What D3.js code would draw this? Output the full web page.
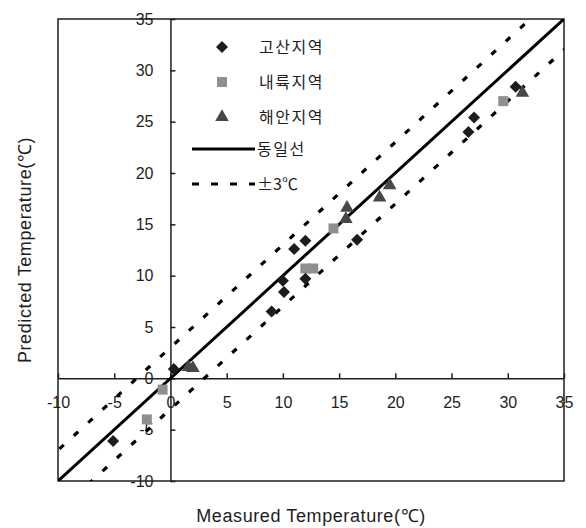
<!DOCTYPE html>
<html>
<head>
<meta charset="utf-8">
<script src="https://cdn.jsdelivr.net/npm/d3@7"></script>
<style>
  body { margin: 0; background: #fff; }
  svg { display: block; }
</style>
</head>
<body>
<svg id="chart" width="586" height="528"></svg>
<script>
// measured / predicted pairs per region
const HIGHLAND_X = [-5.1, 0.3, 9.0, 10.0, 10.1, 11.0, 12.0, 12.0, 16.6, 26.5, 27.0, 30.7];
const HIGHLAND_Y = [-6.1, 0.9, 6.5, 9.5, 8.4, 12.6, 13.4, 9.7, 13.5, 24.0, 25.4, 28.4];
const INLAND_X = [-2.1, -0.7, 12.0, 12.7, 14.5, 29.6];
const INLAND_Y = [-4.0, -1.1, 10.7, 10.7, 14.6, 27.0];
const COAST_X = [1.6, 2.0, 15.6, 15.7, 18.6, 19.5, 31.3];
const COAST_Y = [1.1, 1.0, 15.5, 16.6, 17.6, 18.8, 27.8];
const SERIES_NAMES = ["고산지역", "내륙지역", "해안지역"];
const LINE_NAMES = ["동일선", "±3℃"];
const TICKS = [-10, -5, 0, 5, 10, 15, 20, 25, 30, 35];
const DOMAIN = [-10, 35];
const OFFSET = 3;

const svg = d3.select("#chart");
const x = d3.scaleLinear().domain(DOMAIN).range([58, 564]);
const y = d3.scaleLinear().domain(DOMAIN).range([481, 19]);
const FONT = "'Liberation Sans', Arial, sans-serif";
const INK = "#1e1e1e";

svg.append("clipPath").attr("id", "plot-clip")
  .append("rect")
  .attr("x", x(DOMAIN[0])).attr("y", y(DOMAIN[1]))
  .attr("width", x(DOMAIN[1]) - x(DOMAIN[0]))
  .attr("height", y(DOMAIN[0]) - y(DOMAIN[1]));

// axes through zero, plain hyphen for negatives
const fmt = d => String(d);
const yAxis = d3.axisLeft(y).tickValues(TICKS).tickFormat(fmt)
  .tickSizeInner(-5).tickSizeOuter(0).tickPadding(17);
const xAxis = d3.axisBottom(x).tickValues(TICKS).tickFormat(fmt)
  .tickSizeInner(-5).tickSizeOuter(0).tickPadding(18);

const gy = svg.append("g").attr("transform", `translate(${x(0)},0)`).call(yAxis);
const gx = svg.append("g").attr("transform", `translate(0,${y(0)})`).call(xAxis);
[gx, gy].forEach(g => {
  g.selectAll("path, line").attr("stroke", INK).attr("stroke-width", 1.5);
  g.selectAll("text").attr("font-family", FONT).attr("font-size", 16).attr("fill", INK);
});

// frame
svg.append("rect")
  .attr("x", x(DOMAIN[0])).attr("y", y(DOMAIN[1]))
  .attr("width", x(DOMAIN[1]) - x(DOMAIN[0]))
  .attr("height", y(DOMAIN[0]) - y(DOMAIN[1]))
  .attr("fill", "none").attr("stroke", INK).attr("stroke-width", 1.5);

// reference lines
const lineGen = d3.line().x(d => x(d[0])).y(d => y(d[1]));
const lines = svg.append("g").attr("clip-path", "url(#plot-clip)");
lines.append("path")
  .attr("d", lineGen([[DOMAIN[0], DOMAIN[0]], [DOMAIN[1], DOMAIN[1]]]))
  .attr("stroke", "#000").attr("stroke-width", 3).attr("fill", "none");
[OFFSET, -OFFSET].forEach(o => {
  lines.append("path")
    .attr("d", lineGen([[DOMAIN[0] - 5, DOMAIN[0] - 5 + o], [DOMAIN[1] + 5, DOMAIN[1] + 5 + o]]))
    .attr("stroke", "#000").attr("stroke-width", 3.2).attr("fill", "none")
    .attr("stroke-dasharray", "6,13.5");
});

// markers
const diamond = d3.symbol().type(d3.symbolSquare).size(72);
const square = d3.symbol().type(d3.symbolSquare).size(100);
const triangle = d3.symbol().type(d3.symbolTriangle).size(80);

function drawPoints(xs, ys, sym, color, rot) {
  svg.append("g").selectAll("path")
    .data(xs.map((v, i) => [v, ys[i]]))
    .join("path")
    .attr("d", sym)
    .attr("fill", color)
    .attr("transform", d => `translate(${x(d[0])},${y(d[1])}) rotate(${rot})`);
}
drawPoints(INLAND_X, INLAND_Y, square, "#8f8f8f", 0);
drawPoints(COAST_X, COAST_Y, triangle, "#474747", 0);
drawPoints(HIGHLAND_X, HIGHLAND_Y, diamond, "#1c1c1c", 45);

// legend
const legend = svg.append("g").attr("font-family", "'Noto Sans CJK KR', sans-serif")
  .attr("font-size", 16).attr("fill", INK);
const symDefs = [[diamond, "#1c1c1c", 45], [square, "#8f8f8f", 0], [triangle, "#474747", 0]];
SERIES_NAMES.forEach((name, i) => {
  const cy = 47 + i * 35;
  legend.append("path").attr("d", symDefs[i][0]).attr("fill", symDefs[i][1])
    .attr("transform", `translate(222,${cy}) rotate(${symDefs[i][2]})`);
  legend.append("text").attr("x", 259).attr("y", cy).attr("dy", "0.36em")
    .attr("letter-spacing", 1.5).text(name);
});
LINE_NAMES.forEach((name, i) => {
  const cy = 149 + i * 35;
  const ln = legend.append("line").attr("x1", 192).attr("x2", 255).attr("y1", cy).attr("y2", cy)
    .attr("stroke", "#000").attr("stroke-width", 3);
  if (i === 1) ln.attr("stroke-dasharray", "7,12");
  legend.append("text").attr("x", 257).attr("y", cy).attr("dy", "0.36em")
    .attr("letter-spacing", i === 0 ? 1.5 : 0).text(name);
});

// axis titles
svg.append("text").attr("x", 311).attr("y", 522).attr("text-anchor", "middle")
  .attr("font-family", FONT).attr("font-size", 18).attr("fill", INK)
  .attr("letter-spacing", 0.6)
  .text("Measured Temperature(℃)");
svg.append("text").attr("transform", "translate(31,250) rotate(-90)").attr("text-anchor", "middle")
  .attr("font-family", FONT).attr("font-size", 18).attr("fill", INK)
  .attr("letter-spacing", 0.6)
  .text("Predicted Temperature(℃)");
</script>
</body>
</html>
